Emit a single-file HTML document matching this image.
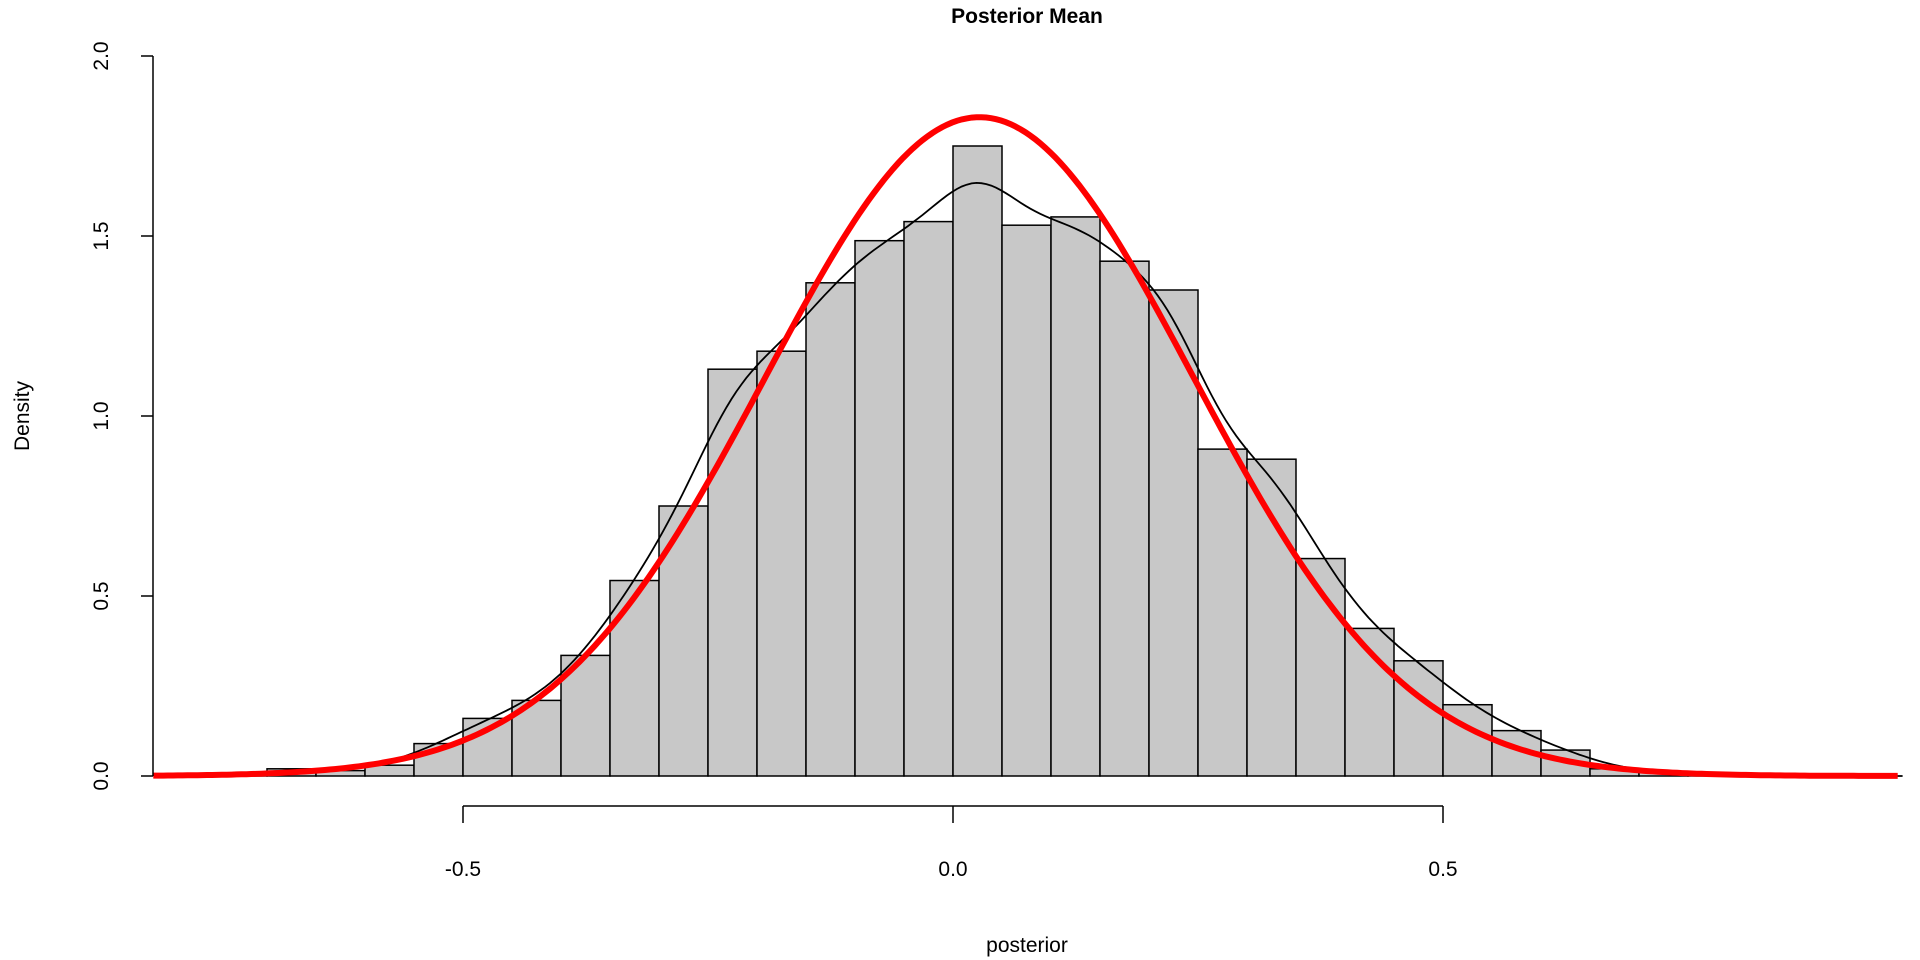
<!DOCTYPE html>
<html><head><meta charset="utf-8"><style>
html,body{margin:0;padding:0;background:#fff;width:1920px;height:960px;overflow:hidden}
svg text{font-family:"Liberation Sans",Arial,sans-serif;fill:#000}
</style></head><body>
<svg id="s" width="1920" height="960" xmlns="http://www.w3.org/2000/svg">
<g id="bars" fill="#c8c8c8" stroke="#000" stroke-width="1.5"></g>
<path id="kde" fill="none" stroke="#000" stroke-width="1.8"/>
<path id="red" fill="none" stroke="#ff0000" stroke-width="6"/>
<g stroke="#000" stroke-width="1.5" fill="none">
<path d="M153,56V776 M141,56H153 M141,236H153 M141,416H153 M141,596H153 M141,776H153"/>
<path d="M463,806H1443 M463,806V823 M953,806V823 M1443,806V823"/>
</g>
<g font-size="21" text-anchor="middle">
<text transform="translate(108,776) rotate(-90)">0.0</text>
<text transform="translate(108,596) rotate(-90)">0.5</text>
<text transform="translate(108,416) rotate(-90)">1.0</text>
<text transform="translate(108,236) rotate(-90)">1.5</text>
<text transform="translate(108,56) rotate(-90)">2.0</text>
<text x="463" y="876">-0.5</text>
<text x="953" y="876">0.0</text>
<text x="1443" y="876">0.5</text>
<text x="1027" y="952">posterior</text>
<text transform="translate(29,416) rotate(-90)">Density</text>
<text x="1027" y="23" font-weight="bold" font-size="21">Posterior Mean</text>
</g>
</svg>
<script>
var X=function(v){return 953+v*980},Y=function(d){return 776-d*360};
var h=[[-0.75,0.005],[-0.7,0.02],[-0.65,0.015],[-0.6,0.03],[-0.55,0.09],[-0.5,0.16],[-0.45,0.21],[-0.4,0.335],[-0.35,0.543],[-0.3,0.75],[-0.25,1.13],[-0.2,1.18],[-0.15,1.37],[-0.1,1.487],[-0.05,1.54],[0,1.75],[0.05,1.53],[0.1,1.553],[0.15,1.43],[0.2,1.35],[0.25,0.908],[0.3,0.88],[0.35,0.604],[0.4,0.41],[0.45,0.32],[0.5,0.198],[0.55,0.126],[0.6,0.072],[0.65,0.02],[0.7,0.01],[0.75,0.005]];
var g=document.getElementById('bars'),s='';
h.forEach(function(b){var x0=X(b[0]),x1=X(b[0]+0.05),y=Y(b[1]);
s+='<rect x="'+x0+'" y="'+y+'" width="'+(x1-x0)+'" height="'+(776-y)+'"/>';});
g.innerHTML=s;
var bw=0.035,d='';
for(var v=-0.816;v<=0.97;v+=0.005){var t=0;
h.forEach(function(b){for(var k=0;k<10;k++){var c=b[0]+0.005*(k+0.5);t+=b[1]*0.005*Math.exp(-0.5*Math.pow((v-c)/bw,2))/(bw*2.5066);}});
d+=(d?'L':'M')+X(v).toFixed(1)+','+Y(t).toFixed(1);}
document.getElementById('kde').setAttribute('d',d);
var m=0.027,sd=0.218,r='';
for(var v=-0.816;v<=0.967;v+=0.005){var p=Math.exp(-0.5*Math.pow((v-m)/sd,2))/(sd*2.5066);
r+=(r?'L':'M')+X(v).toFixed(1)+','+Y(p).toFixed(1);}
document.getElementById('red').setAttribute('d',r);
</script>
</body></html>
